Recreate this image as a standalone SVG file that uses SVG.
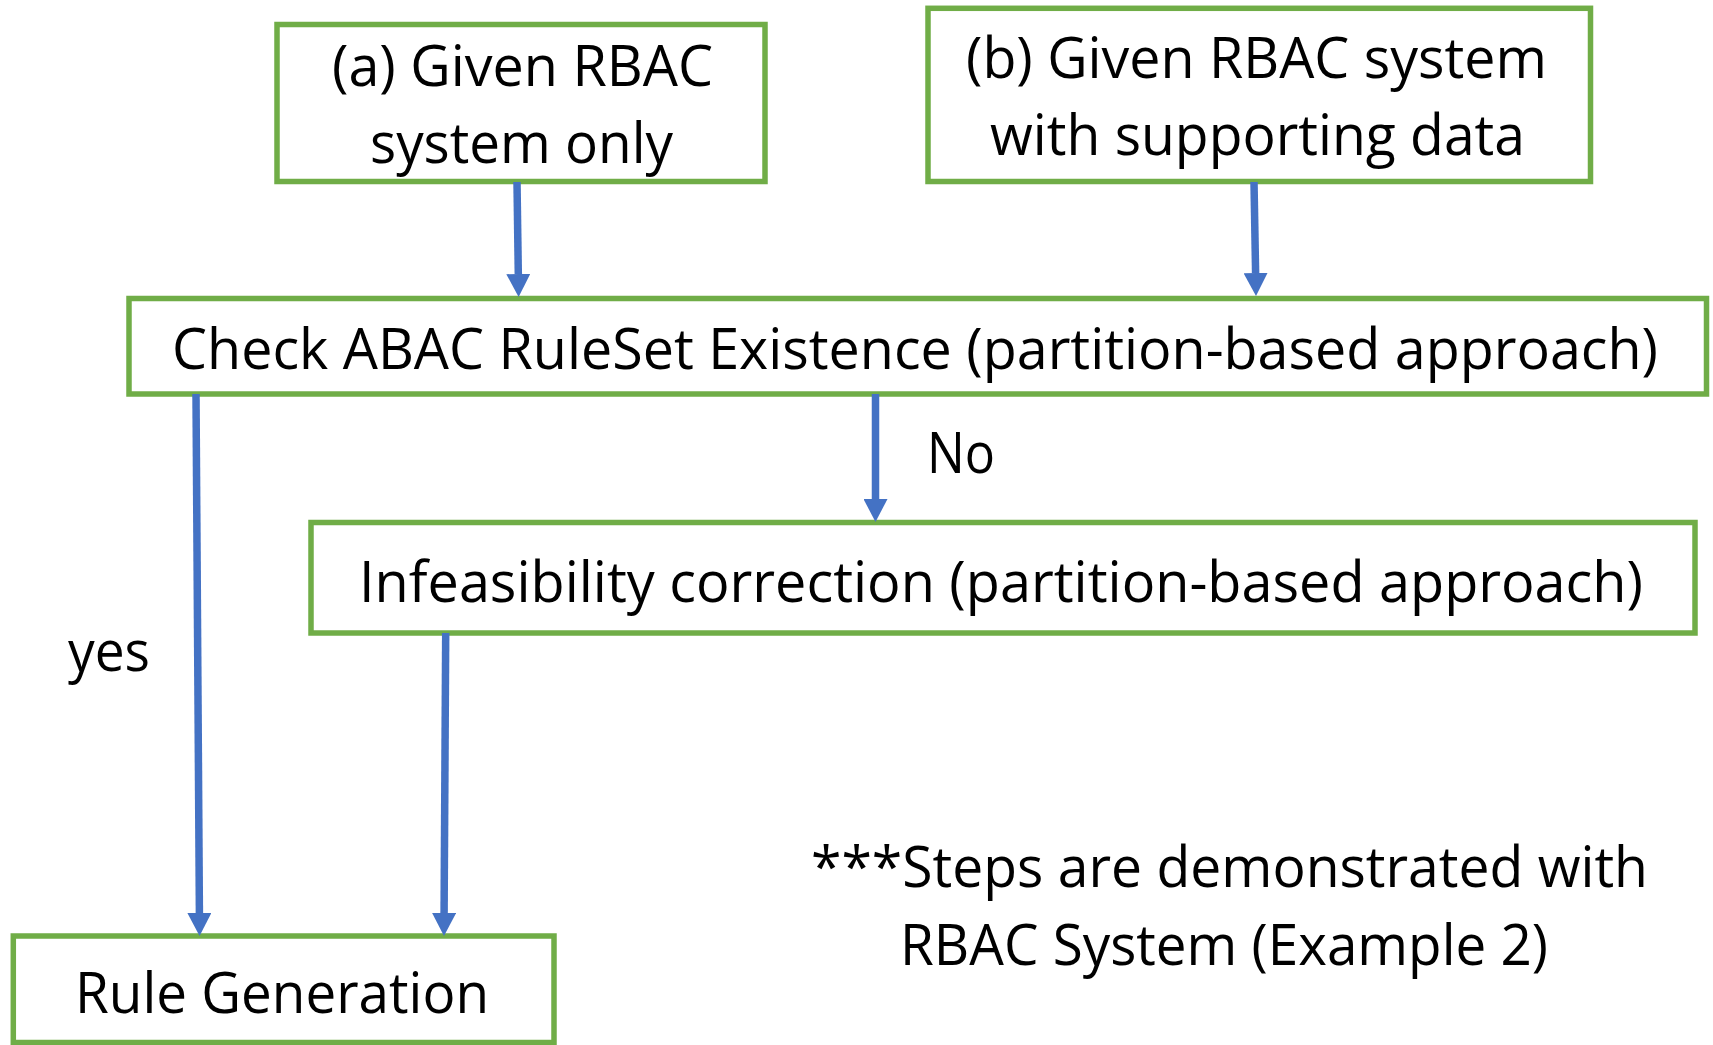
<svg xmlns="http://www.w3.org/2000/svg" width="1713" height="1045" viewBox="0 0 1713 1045">
<defs>
<style>
.box{fill:#FFFFFF;stroke:#70AD47;stroke-width:5.5}
.t{font-family:"Open Sans","Liberation Sans",Arial,sans-serif;font-size:56px;fill:#000000}
.c{fill:none;stroke:#4472C4;stroke-width:7.5}
</style>
<marker id="ah" markerUnits="userSpaceOnUse" markerWidth="24" markerHeight="24" refX="0" refY="12" orient="auto" viewBox="0 0 24 24">
<path d="M0,0 L23,12 L0,24 Z" fill="#4472C4"/>
</marker>
</defs>
<rect width="1713" height="1045" fill="#FFFFFF"/>
<g id="node-a">
<rect class="box" x="277" y="24.5" width="488" height="157"/>
<text class="t" x="332" y="86" textLength="381" lengthAdjust="spacingAndGlyphs">(a) Given RBAC</text>
<text class="t" x="370" y="163" textLength="303" lengthAdjust="spacingAndGlyphs">system only</text>
</g>
<g id="node-b">
<rect class="box" x="928" y="8.3" width="662.5" height="173.2"/>
<text class="t" x="966" y="78" textLength="581" lengthAdjust="spacingAndGlyphs">(b) Given RBAC system</text>
<text class="t" x="990" y="155" textLength="535" lengthAdjust="spacingAndGlyphs">with supporting data</text>
</g>
<g id="node-check">
<rect class="box" x="129" y="298.5" width="1577.5" height="95.5"/>
<text class="t" x="172" y="369" textLength="1486" lengthAdjust="spacingAndGlyphs">Check ABAC RuleSet Existence (partition-based approach)</text>
</g>
<g id="node-infeasibility">
<rect class="box" x="311" y="522.5" width="1384" height="110.5"/>
<text class="t" x="359" y="602" textLength="1284" lengthAdjust="spacingAndGlyphs">Infeasibility correction (partition-based approach)</text>
</g>
<g id="node-rule">
<rect class="box" x="13.3" y="936" width="540.7" height="106.5"/>
<text class="t" x="75" y="1013" textLength="414" lengthAdjust="spacingAndGlyphs">Rule Generation</text>
</g>
<g id="connectors">
<line class="c" x1="517" y1="182" x2="518.3" y2="274" marker-end="url(#ah)"/>
<line class="c" x1="1254" y1="182" x2="1255.6" y2="273" marker-end="url(#ah)"/>
<line class="c" x1="196" y1="394" x2="199.4" y2="913" marker-end="url(#ah)"/>
<line class="c" x1="875.5" y1="394" x2="875.5" y2="499" marker-end="url(#ah)"/>
<line class="c" x1="445.7" y1="633" x2="444.1" y2="913" marker-end="url(#ah)"/>
<text class="t" x="927" y="473" textLength="68" lengthAdjust="spacingAndGlyphs">No</text>
<text class="t" x="68" y="671" textLength="82" lengthAdjust="spacingAndGlyphs">yes</text>
</g>
<g id="note">
<text class="t" x="811" y="887" textLength="837" lengthAdjust="spacingAndGlyphs">***Steps are demonstrated with</text>
<text class="t" x="900" y="965" textLength="648" lengthAdjust="spacingAndGlyphs">RBAC System (Example 2)</text>
</g>
</svg>
